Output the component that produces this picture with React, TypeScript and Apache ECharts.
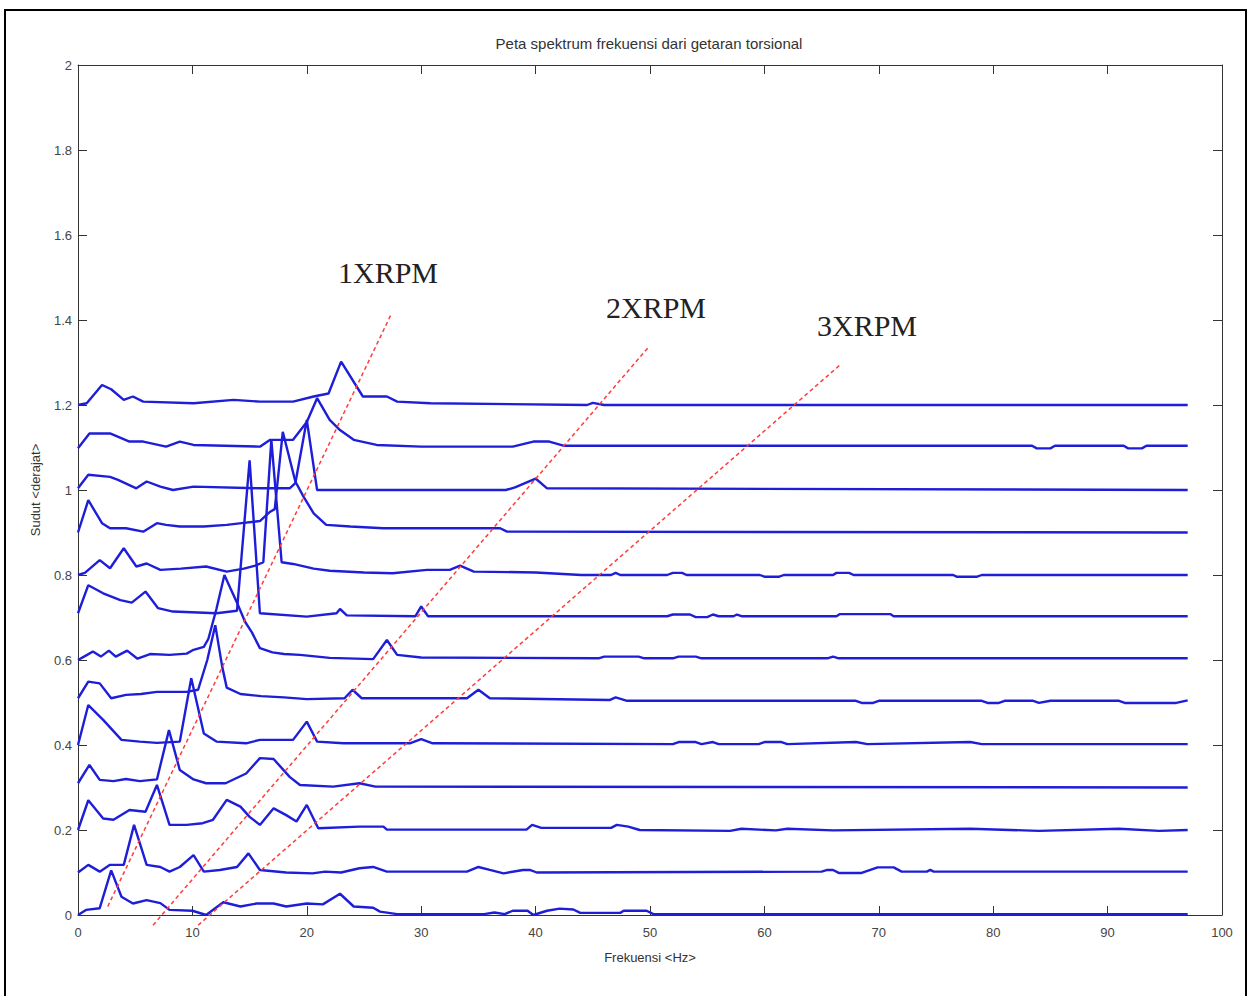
import React, { useEffect, useRef } from "react";
import * as echarts from "echarts";

// Waterfall traces: [frequency Hz, angle value incl. offset]
const trace0 = [[0,0.0],[0.7,0.012],[1.9,0.016],[2.9,0.105],[3.8,0.043],[4.8,0.027],[6,0.035],[7.2,0.028],[8,0.012],[10,0.01],[11.2,0.0],[12.7,0.03],[14.2,0.02],[15.6,0.027],[17.1,0.027],[18.2,0.02],[20,0.027],[21.4,0.025],[22.9,0.05],[24.1,0.02],[25.8,0.017],[26.4,0.008],[27.9,0.002],[35.5,0.002],[36.4,0.006],[37.3,0.002],[38,0.01],[39.3,0.01],[39.8,0.0],[41,0.01],[42.1,0.015],[43.3,0.013],[43.9,0.005],[47.4,0.005],[47.7,0.01],[49.7,0.01],[50.3,0.002],[97,0.002]];
const trace1 = [[0,0.1],[0.9,0.118],[1.9,0.102],[2.8,0.118],[4.0,0.118],[4.9,0.212],[6,0.118],[7.2,0.113],[8,0.102],[8.9,0.113],[10.1,0.141],[11,0.102],[12.4,0.106],[13.9,0.113],[14.9,0.145],[15.9,0.106],[18.2,0.1],[20.5,0.098],[21.6,0.102],[23,0.1],[24.6,0.11],[25.8,0.113],[27,0.102],[34,0.102],[35,0.113],[36,0.106],[37.2,0.098],[38.9,0.106],[39.5,0.106],[40.1,0.1],[65,0.102],[65.5,0.106],[66,0.106],[66.5,0.099],[68.5,0.099],[69.9,0.112],[71.3,0.112],[72,0.102],[74.2,0.102],[74.5,0.106],[74.8,0.102],[97,0.102]];
const trace2 = [[0,0.2],[0.9,0.27],[2.2,0.227],[3.1,0.224],[4.5,0.247],[5.9,0.243],[6.9,0.306],[8,0.212],[9.5,0.212],[10.9,0.216],[11.8,0.224],[13,0.271],[14.2,0.255],[15,0.231],[15.9,0.212],[17.1,0.251],[18.2,0.235],[19.1,0.22],[20,0.259],[21,0.204],[24.6,0.208],[26.7,0.208],[27,0.201],[39.2,0.201],[39.7,0.212],[40.5,0.205],[46.6,0.205],[47.1,0.212],[48.1,0.208],[49.1,0.2],[57,0.198],[58,0.203],[61,0.199],[62,0.203],[66,0.199],[78,0.203],[84,0.198],[91,0.203],[94.5,0.198],[97,0.2]];
const trace3 = [[0,0.31],[1,0.353],[1.9,0.318],[3.1,0.315],[4.2,0.32],[5.4,0.315],[6.9,0.319],[7.95,0.435],[8.9,0.341],[10.1,0.319],[11.2,0.31],[12.9,0.31],[14.7,0.333],[15.9,0.369],[17.1,0.367],[18.5,0.325],[19.4,0.306],[22.3,0.302],[24.6,0.31],[26,0.302],[97,0.3]];
const trace4 = [[0,0.4],[0.9,0.494],[2.2,0.459],[3.8,0.412],[5.4,0.408],[6.9,0.405],[8.9,0.408],[9.9,0.557],[11,0.427],[12.1,0.408],[14.7,0.404],[15.9,0.412],[18.8,0.412],[20,0.455],[20.9,0.408],[23.2,0.404],[29,0.404],[30,0.414],[31,0.404],[52,0.402],[52.5,0.407],[54,0.407],[54.5,0.402],[55.5,0.407],[56,0.402],[59.5,0.402],[60,0.407],[61.5,0.407],[62,0.402],[68,0.407],[69,0.402],[78,0.407],[79,0.402],[97,0.402]];
const trace5 = [[0,0.51],[0.9,0.549],[1.9,0.545],[2.9,0.51],[4.2,0.518],[5.5,0.52],[6.9,0.525],[9.5,0.525],[10.5,0.53],[11.3,0.6],[12,0.682],[12.6,0.585],[13,0.535],[14.2,0.52],[16,0.515],[18,0.512],[20,0.508],[23.3,0.51],[24,0.53],[24.8,0.51],[34,0.51],[35,0.53],[36,0.51],[46.5,0.506],[47,0.512],[48,0.504],[68,0.504],[68.5,0.499],[69.5,0.499],[70,0.504],[79,0.504],[79.5,0.499],[80.5,0.499],[81,0.504],[83.5,0.504],[84,0.499],[85,0.504],[91,0.504],[91.5,0.499],[96,0.499],[97,0.505]];
const trace6 = [[0,0.6],[0.8,0.612],[1.3,0.62],[2,0.608],[2.7,0.622],[3.3,0.608],[4.3,0.622],[5.2,0.603],[6.3,0.614],[8,0.612],[9.5,0.615],[10.1,0.624],[11,0.631],[11.4,0.65],[12.1,0.72],[12.8,0.8],[13.3,0.77],[13.9,0.735],[14.6,0.69],[15.2,0.665],[15.9,0.628],[17,0.618],[18,0.614],[19.4,0.612],[22,0.605],[25.8,0.602],[27,0.647],[27.9,0.612],[30,0.606],[45.5,0.604],[46,0.608],[49,0.608],[49.5,0.604],[52,0.604],[52.5,0.608],[54,0.608],[54.5,0.604],[65.5,0.604],[66,0.608],[66.5,0.604],[97,0.604]];
const trace7 = [[0,0.71],[0.9,0.776],[2.2,0.757],[3.7,0.741],[4.7,0.735],[5.9,0.761],[7,0.722],[8.3,0.714],[12.1,0.71],[13.9,0.716],[15,1.07],[15.9,0.71],[20,0.702],[22.6,0.71],[22.9,0.72],[23.5,0.705],[29.5,0.703],[30,0.726],[30.6,0.703],[51.5,0.703],[52,0.707],[53.5,0.707],[54,0.701],[55,0.701],[55.5,0.707],[56,0.703],[57.3,0.703],[57.6,0.707],[58,0.703],[66.3,0.703],[66.6,0.708],[71,0.708],[71.3,0.703],[97,0.703]];
const trace8 = [[0,0.8],[0.6,0.805],[1.9,0.835],[2.8,0.816],[4,0.863],[5.1,0.82],[6,0.827],[7.2,0.812],[9,0.815],[11.2,0.82],[13,0.808],[14.5,0.815],[15.5,0.822],[16.2,0.83],[16.9,1.118],[17.8,0.83],[18.8,0.826],[20.6,0.815],[22,0.81],[25,0.806],[27.5,0.804],[30.5,0.812],[32.5,0.812],[33.4,0.822],[34.6,0.808],[40,0.806],[44,0.8],[46.6,0.8],[47,0.805],[47.4,0.8],[51.5,0.8],[52,0.805],[52.8,0.805],[53.2,0.8],[59.6,0.8],[60,0.796],[61.3,0.796],[61.7,0.8],[66,0.8],[66.3,0.805],[67.4,0.805],[67.8,0.8],[76.5,0.8],[76.8,0.796],[78.6,0.796],[79,0.8],[97,0.8]];
const trace9 = [[0,0.9],[0.9,0.976],[2.1,0.922],[2.8,0.91],[4.2,0.91],[5.7,0.902],[6.9,0.922],[7.7,0.918],[8.9,0.914],[11,0.914],[13,0.918],[14.3,0.922],[15.9,0.927],[16.8,0.949],[17.2,0.955],[17.9,1.137],[19,1.02],[19.7,0.985],[20.6,0.945],[21.7,0.918],[23.8,0.914],[26.7,0.91],[36.9,0.91],[37.5,0.902],[97,0.9]];
const trace10 = [[0,1.004],[0.9,1.036],[2.8,1.031],[3.5,1.024],[5.1,1.004],[6,1.02],[7.2,1.008],[8.3,1.0],[10.1,1.008],[15.9,1.004],[18.5,1.004],[19,1.016],[20,1.165],[20.9,1.0],[37.4,1.0],[38.2,1.006],[40,1.027],[41,1.004],[97,1.0]];
const trace11 = [[0,1.098],[1,1.133],[2.8,1.133],[4.5,1.114],[5.7,1.114],[7.7,1.102],[8.9,1.114],[10.1,1.106],[15.9,1.102],[16.8,1.118],[18.8,1.118],[20,1.16],[20.9,1.216],[22,1.165],[22.9,1.141],[24.1,1.118],[26.1,1.106],[30,1.102],[38,1.102],[39.8,1.114],[41.2,1.114],[42.5,1.104],[83.4,1.104],[83.8,1.098],[85,1.098],[85.4,1.104],[91.4,1.104],[91.8,1.098],[93,1.098],[93.4,1.104],[97,1.104]];
const trace12 = [[0,1.2],[0.76,1.204],[2.1,1.247],[2.9,1.237],[4,1.212],[4.8,1.22],[5.7,1.208],[10.1,1.204],[13.6,1.212],[15.9,1.208],[18.8,1.208],[20.6,1.22],[21.9,1.227],[23,1.302],[24.9,1.22],[27,1.22],[27.9,1.208],[30.8,1.204],[44.5,1.2],[45,1.205],[46,1.2],[97,1.2]];

const traces = [trace0, trace1, trace2, trace3, trace4, trace5, trace6, trace7, trace8, trace9, trace10, trace11, trace12];

// Harmonic order guide lines (dashed red)
const rpm1x = [[2.6, 0.02], [27.4, 1.415]];
const rpm2x = [[6.56, -0.024], [49.8, 1.334]];
const rpm3x = [[10.5, -0.024], [66.6, 1.294]];
const rpmLabels = ["1XRPM", "2XRPM", "3XRPM"];

const titleText = "Peta spektrum frekuensi dari getaran torsional";
const xName = "Frekuensi <Hz>";
const yName = "Sudut <derajat>";

const BLUE = "#1e1ed9";
const RED = "#ff3c3c";
const AXIS = "#333333";

function buildOption() {
  const blueSeries = traces.map((d, i) => ({
    type: "line",
    name: "trace" + i,
    data: d,
    showSymbol: false,
    symbol: "none",
    lineStyle: { color: BLUE, width: 2.4 },
    z: 2,
  }));
  const redSeries = [rpm1x, rpm2x, rpm3x].map((d, i) => ({
    type: "line",
    name: rpmLabels[i],
    data: d,
    showSymbol: false,
    symbol: "none",
    clip: false,
    lineStyle: { color: RED, width: 1.5, type: [4, 3] },
    z: 3,
  }));
  const yFmt = (v: number) => String(Number(v.toFixed(1)));
  return {
    animation: false,
    backgroundColor: "#ffffff",
    grid: { left: 78, right: 29, top: 65, bottom: 81, containLabel: false },
    xAxis: [
      {
        type: "value", min: 0, max: 100, interval: 10, position: "bottom",
        axisLine: { show: true, onZero: false, lineStyle: { color: AXIS, width: 1 } },
        axisTick: { show: true, inside: true, length: 9, lineStyle: { color: AXIS } },
        axisLabel: { color: "#444", fontSize: 13, margin: 11, fontFamily: "Liberation Sans" },
        splitLine: { show: false },
        name: xName, nameLocation: "middle", nameGap: 36,
        nameTextStyle: { color: "#333", fontSize: 13, fontFamily: "Liberation Sans" },
      },
      {
        type: "value", min: 0, max: 100, interval: 10, position: "top",
        axisLine: { show: true, onZero: false, lineStyle: { color: AXIS, width: 1 } },
        axisTick: { show: true, inside: true, length: 9, lineStyle: { color: AXIS } },
        axisLabel: { show: false },
        splitLine: { show: false },
      },
    ],
    yAxis: [
      {
        type: "value", min: 0, max: 2, interval: 0.2, position: "left",
        axisLine: { show: true, onZero: false, lineStyle: { color: AXIS, width: 1 } },
        axisTick: { show: true, inside: true, length: 9, lineStyle: { color: AXIS } },
        axisLabel: { color: "#444", fontSize: 13, margin: 6, fontFamily: "Liberation Sans", formatter: yFmt },
        splitLine: { show: false },
        name: yName, nameLocation: "middle", nameGap: 36, nameRotate: 90,
        nameTextStyle: { color: "#333", fontSize: 13, fontFamily: "Liberation Sans" },
      },
      {
        type: "value", min: 0, max: 2, interval: 0.2, position: "right",
        axisLine: { show: true, onZero: false, lineStyle: { color: AXIS, width: 1 } },
        axisTick: { show: true, inside: true, length: 9, lineStyle: { color: AXIS } },
        axisLabel: { show: false },
        splitLine: { show: false },
      },
    ],
    series: [...blueSeries, ...redSeries],
    graphic: [
      {
        type: "rect", silent: true, z: 0,
        shape: { x: 5, y: 10, width: 1241, height: 1000 },
        style: { fill: "none", stroke: "#000", lineWidth: 2 },
      },
      {
        type: "text", x: 649, y: 43, silent: true,
        style: { text: titleText, fill: "#333", fontSize: 15, fontFamily: "Liberation Sans", align: "center", verticalAlign: "middle" },
      },
      {
        type: "text", x: 338, y: 272, silent: true,
        style: { text: rpmLabels[0], fill: "#222", fontSize: 30, fontFamily: "Liberation Serif", align: "left", verticalAlign: "middle" },
      },
      {
        type: "text", x: 606, y: 307, silent: true,
        style: { text: rpmLabels[1], fill: "#222", fontSize: 30, fontFamily: "Liberation Serif", align: "left", verticalAlign: "middle" },
      },
      {
        type: "text", x: 817, y: 325, silent: true,
        style: { text: rpmLabels[2], fill: "#222", fontSize: 30, fontFamily: "Liberation Serif", align: "left", verticalAlign: "middle" },
      },
    ],
  };
}

export default function App() {
  const ref = useRef<HTMLDivElement>(null);
  useEffect(() => {
    if (!ref.current) return;
    const chart = echarts.init(ref.current, null, { renderer: "svg" });
    chart.setOption(buildOption() as any);
    return () => chart.dispose();
  }, []);
  return (
    <div
      ref={ref}
      style={{ position: "absolute", left: 0, top: 0, width: 1251, height: 996, background: "#fff" }}
    />
  );
}
